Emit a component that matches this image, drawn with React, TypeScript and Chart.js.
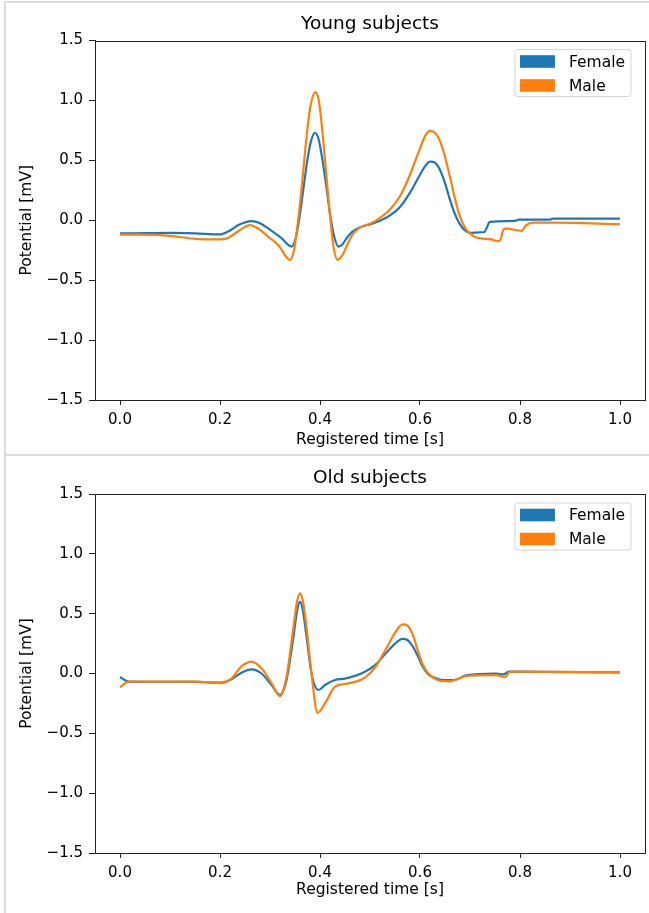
import React, { useEffect, useRef } from "react";
import { Chart, registerables } from "chart.js";

Chart.register(...registerables);

const FONT = "'DejaVu Sans', sans-serif";
const BLUE = "#1f77b4";
const ORANGE = "#ff7f0e";
const AXIS_COLOR = "#222";

const seriesLabels = ["Female", "Male"];
const xTickValues = [0, 0.2, 0.4, 0.6, 0.8, 1.0];
const yTickValues = [-1.5, -1.0, -0.5, 0.0, 0.5, 1.0, 1.5];
const xAxisLabel = "Registered time [s]";
const yAxisLabel = "Potential [mV]";
const panelTitles = ["Young subjects", "Old subjects"];

// ---- Young subjects ----
const youngFemaleT = [0, 0.05, 0.1, 0.15, 0.2, 0.22, 0.237, 0.263, 0.28, 0.297, 0.323, 0.343, 0.352, 0.36, 0.368, 0.375, 0.382, 0.39, 0.397, 0.405, 0.413, 0.42, 0.428, 0.437, 0.445, 0.455, 0.465, 0.475, 0.49, 0.5, 0.52, 0.54, 0.56, 0.58, 0.6, 0.61, 0.62, 0.63, 0.64, 0.65, 0.66, 0.67, 0.68, 0.69, 0.7, 0.72, 0.728, 0.74, 0.79, 0.797, 0.86, 0.867, 1.0];
const youngFemaleV = [-0.11, -0.108, -0.106, -0.11, -0.118, -0.085, -0.04, -0.008, -0.025, -0.07, -0.15, -0.22, -0.14, 0.055, 0.3, 0.51, 0.66, 0.73, 0.68, 0.5, 0.27, 0.055, -0.13, -0.22, -0.2, -0.14, -0.095, -0.068, -0.045, -0.035, -0.005, 0.04, 0.11, 0.23, 0.38, 0.45, 0.49, 0.48, 0.42, 0.31, 0.17, 0.05, -0.035, -0.085, -0.105, -0.1, -0.1, -0.014, -0.006, 0.005, 0.005, 0.014, 0.014];
const youngMaleT = [0, 0.05, 0.1, 0.15, 0.2, 0.215, 0.237, 0.26, 0.28, 0.297, 0.317, 0.34, 0.348, 0.356, 0.364, 0.372, 0.38, 0.391, 0.398, 0.405, 0.412, 0.419, 0.427, 0.435, 0.445, 0.455, 0.465, 0.475, 0.485, 0.5, 0.52, 0.54, 0.56, 0.58, 0.6, 0.61, 0.62, 0.63, 0.64, 0.65, 0.66, 0.67, 0.68, 0.69, 0.7, 0.713, 0.743, 0.755, 0.76, 0.767, 0.773, 0.803, 0.812, 0.827, 0.867, 1.0];
const youngMaleV = [-0.12, -0.12, -0.13, -0.155, -0.16, -0.15, -0.09, -0.04, -0.08, -0.14, -0.21, -0.33, -0.25, -0.008, 0.3, 0.65, 0.93, 1.07, 0.99, 0.73, 0.41, 0.08, -0.22, -0.33, -0.29, -0.2, -0.12, -0.075, -0.05, -0.03, 0.02, 0.09, 0.2, 0.38, 0.6, 0.7, 0.745, 0.73, 0.66, 0.53, 0.36, 0.18, 0.03, -0.06, -0.11, -0.145, -0.16, -0.175, -0.17, -0.078, -0.07, -0.089, -0.042, -0.02, -0.02, -0.033];

// ---- Old subjects ----
const oldFemaleT = [0, 0.017, 0.083, 0.15, 0.203, 0.223, 0.243, 0.263, 0.283, 0.303, 0.32, 0.333, 0.347, 0.354, 0.36, 0.366, 0.373, 0.383, 0.397, 0.41, 0.43, 0.45, 0.47, 0.49, 0.51, 0.53, 0.55, 0.565, 0.575, 0.585, 0.595, 0.605, 0.615, 0.625, 0.64, 0.66, 0.673, 0.693, 0.753, 0.767, 0.777, 1.0];
const oldFemaleV = [-0.03, -0.068, -0.07, -0.07, -0.077, -0.048, 0.007, 0.035, 0.0, -0.096, -0.18, -0.054, 0.31, 0.52, 0.6, 0.52, 0.31, 0.0, -0.138, -0.096, -0.054, -0.043, -0.02, 0.015, 0.07, 0.16, 0.25, 0.29, 0.28, 0.23, 0.15, 0.06, 0.0, -0.03, -0.05, -0.055, -0.05, -0.013, 0.0, -0.008, 0.015, 0.01];
const oldMaleT = [0, 0.017, 0.083, 0.15, 0.203, 0.223, 0.243, 0.263, 0.283, 0.303, 0.32, 0.333, 0.347, 0.354, 0.36, 0.366, 0.373, 0.383, 0.395, 0.41, 0.43, 0.45, 0.47, 0.49, 0.51, 0.53, 0.55, 0.565, 0.575, 0.585, 0.595, 0.605, 0.615, 0.625, 0.64, 0.66, 0.673, 0.693, 0.753, 0.77, 0.78, 1.0];
const oldMaleV = [-0.115, -0.068, -0.068, -0.068, -0.08, -0.04, 0.06, 0.1, 0.043, -0.08, -0.19, -0.026, 0.39, 0.6, 0.67, 0.6, 0.39, 0.0, -0.33, -0.25, -0.11, -0.088, -0.07, -0.035, 0.05, 0.19, 0.34, 0.41, 0.4, 0.33, 0.2, 0.08, 0.01, -0.03, -0.06, -0.065, -0.05, -0.02, -0.013, -0.03, 0.015, 0.01];

const fmt = (v: number) => v.toFixed(1).replace("-", "\u2212");

const framePlugin = {
  id: "frame",
  afterDatasetsDraw(chart: any) {
    const { ctx, chartArea } = chart;
    ctx.save();
    ctx.strokeStyle = AXIS_COLOR;
    ctx.lineWidth = 1;
    const l = Math.round(chartArea.left) + 0.5;
    const t = Math.round(chartArea.top) + 0.5;
    const r = Math.round(chartArea.right) + 0.5;
    const b = Math.round(chartArea.bottom) + 0.5;
    ctx.strokeRect(l, t, r - l, b - t);
    ctx.restore();
  },
};

const axesTitlePlugin = {
  id: "axesTitle",
  afterDraw(chart: any) {
    const opts = chart.options.plugins.axesTitle;
    if (!opts) return;
    const { ctx, chartArea } = chart;
    ctx.save();
    ctx.font = `${opts.size}px ${FONT}`;
    ctx.fillStyle = "#000";
    ctx.textAlign = "center";
    ctx.textBaseline = "middle";
    ctx.fillText(opts.text, (chartArea.left + chartArea.right) / 2, opts.y);
    ctx.restore();
  },
};

const legendPlugin = {
  id: "boxLegend",
  afterDraw(chart: any) {
    const { ctx, chartArea } = chart;
    const size = 15.5;
    ctx.save();
    ctx.font = `${size}px ${FONT}`;
    const items = chart.data.datasets.map((d: any) => ({ label: d.label, color: d.borderColor }));
    const textW = Math.max(...items.map((i: any) => ctx.measureText(i.label).width));
    const handleW = 35, handleH = 12.6, padL = 5, gap = 14, padR = 6, rowH = 24;
    const boxW = padL + handleW + gap + textW + padR;
    const boxH = 47;
    const x0 = chartArea.right - 14 - boxW;
    const y0 = chartArea.top + 9;
    const rad = 3;
    ctx.beginPath();
    ctx.moveTo(x0 + rad, y0);
    ctx.lineTo(x0 + boxW - rad, y0);
    ctx.quadraticCurveTo(x0 + boxW, y0, x0 + boxW, y0 + rad);
    ctx.lineTo(x0 + boxW, y0 + boxH - rad);
    ctx.quadraticCurveTo(x0 + boxW, y0 + boxH, x0 + boxW - rad, y0 + boxH);
    ctx.lineTo(x0 + rad, y0 + boxH);
    ctx.quadraticCurveTo(x0, y0 + boxH, x0, y0 + boxH - rad);
    ctx.lineTo(x0, y0 + rad);
    ctx.quadraticCurveTo(x0, y0, x0 + rad, y0);
    ctx.closePath();
    ctx.fillStyle = "rgba(255,255,255,0.8)";
    ctx.fill();
    ctx.strokeStyle = "#d4d4d4";
    ctx.lineWidth = 1;
    ctx.stroke();
    items.forEach((it: any, i: number) => {
      const cy = y0 + 12 + i * rowH;
      ctx.fillStyle = it.color;
      ctx.fillRect(x0 + padL, cy - handleH / 2, handleW, handleH);
      ctx.fillStyle = "#000";
      ctx.textBaseline = "middle";
      ctx.textAlign = "left";
      ctx.fillText(it.label, x0 + padL + handleW + gap, cy + 1);
    });
    ctx.restore();
  },
};

type PanelCfg = {
  title: string;
  femaleT: number[];
  femaleV: number[];
  maleT: number[];
  maleV: number[];
  height: number;
  chartTop: number;
  titleY: number;
  xAxisHeight: number;
  xTitlePad: number;
};

function Panel({ cfg, top }: { cfg: PanelCfg; top: number }) {
  const ref = useRef<HTMLCanvasElement | null>(null);
  useEffect(() => {
    if (!ref.current) return;
    const tickFont = { family: FONT, size: 15 };
    const labelFont = { family: FONT, size: 15.5 };
    const mk = (t: number[], v: number[]) => t.map((x, i) => ({ x, y: v[i] }));
    const chart = new Chart(ref.current, {
      type: "line",
      data: {
        datasets: [
          {
            label: seriesLabels[0],
            data: mk(cfg.femaleT, cfg.femaleV),
            borderColor: BLUE,
            backgroundColor: BLUE,
            borderWidth: 2.2,
            pointRadius: 0,
            cubicInterpolationMode: "monotone",
            order: 1,
          },
          {
            label: seriesLabels[1],
            data: mk(cfg.maleT, cfg.maleV),
            borderColor: ORANGE,
            backgroundColor: ORANGE,
            borderWidth: 2.2,
            pointRadius: 0,
            cubicInterpolationMode: "monotone",
            order: 0,
          },
        ],
      },
      options: {
        animation: false,
        responsive: false,
        devicePixelRatio: 1,
        events: [],
        layout: { padding: { left: 0, right: 4, top: cfg.chartTop, bottom: 0 } },
        plugins: {
          legend: { display: false },
          tooltip: { enabled: false },
          title: { display: false },
          axesTitle: { text: cfg.title, size: 18.5, y: cfg.titleY },
        },
        scales: {
          x: {
            type: "linear",
            min: -0.05,
            max: 1.05,
            afterBuildTicks: (s: any) => {
              s.ticks = xTickValues.map((v) => ({ value: v }));
            },
            afterFit: (s: any) => {
              s.height = cfg.xAxisHeight;
            },
            ticks: {
              color: "#000",
              font: tickFont,
              padding: 6,
              maxRotation: 0,
              autoSkip: false,
              callback: (v: any) => fmt(Number(v)),
            },
            grid: { drawOnChartArea: false, drawTicks: true, tickLength: 5, color: AXIS_COLOR },
            border: { display: true, color: AXIS_COLOR, width: 1 },
            title: {
              display: true,
              text: xAxisLabel,
              color: "#000",
              font: labelFont,
              padding: { top: 0, bottom: cfg.xTitlePad },
            },
          },
          y: {
            type: "linear",
            min: -1.5,
            max: 1.5,
            afterBuildTicks: (s: any) => {
              s.ticks = yTickValues.map((v) => ({ value: v }));
            },
            afterFit: (s: any) => {
              s.width = 95;
            },
            ticks: {
              color: "#000",
              font: tickFont,
              padding: 6,
              autoSkip: false,
              callback: (v: any) => fmt(Number(v)),
            },
            grid: { drawOnChartArea: false, drawTicks: true, tickLength: 6, color: AXIS_COLOR },
            border: { display: true, color: AXIS_COLOR, width: 1 },
            title: {
              display: true,
              text: yAxisLabel,
              color: "#000",
              font: labelFont,
              padding: { top: 17.7, bottom: 0 },
            },
          },
        },
      },
      plugins: [framePlugin, axesTitlePlugin, legendPlugin],
    } as any);
    return () => chart.destroy();
  }, [cfg]);
  return (
    <canvas
      ref={ref}
      width={649}
      height={cfg.height}
      style={{ position: "absolute", left: 0, top, width: 649, height: cfg.height }}
    />
  );
}

const youngCfg: PanelCfg = {
  title: panelTitles[0],
  femaleT: youngFemaleT,
  femaleV: youngFemaleV,
  maleT: youngMaleT,
  maleV: youngMaleV,
  height: 455,
  chartTop: 40.5,
  titleY: 24.5,
  xAxisHeight: 55,
  xTitlePad: 5.7,
};

const oldCfg: PanelCfg = {
  title: panelTitles[1],
  femaleT: oldFemaleT,
  femaleV: oldFemaleV,
  maleT: oldMaleT,
  maleV: oldMaleV,
  height: 457,
  chartTop: 38,
  titleY: 22,
  xAxisHeight: 60,
  xTitlePad: 13.7,
};

export default function App() {
  const line = "#dcdcdc";
  return (
    <div
      style={{
        position: "absolute",
        left: 0,
        top: 0,
        width: 649,
        height: 913,
        background: "#fff",
        overflow: "hidden",
      }}
    >
      <div style={{ position: "absolute", left: 5, top: 1, width: 644, height: 2, background: line }} />
      <div style={{ position: "absolute", left: 4, top: 1, width: 2, height: 912, background: line }} />
      <div style={{ position: "absolute", left: 5, top: 454, width: 644, height: 2, background: line }} />
      <Panel cfg={youngCfg} top={0} />
      <Panel cfg={oldCfg} top={456} />
    </div>
  );
}
